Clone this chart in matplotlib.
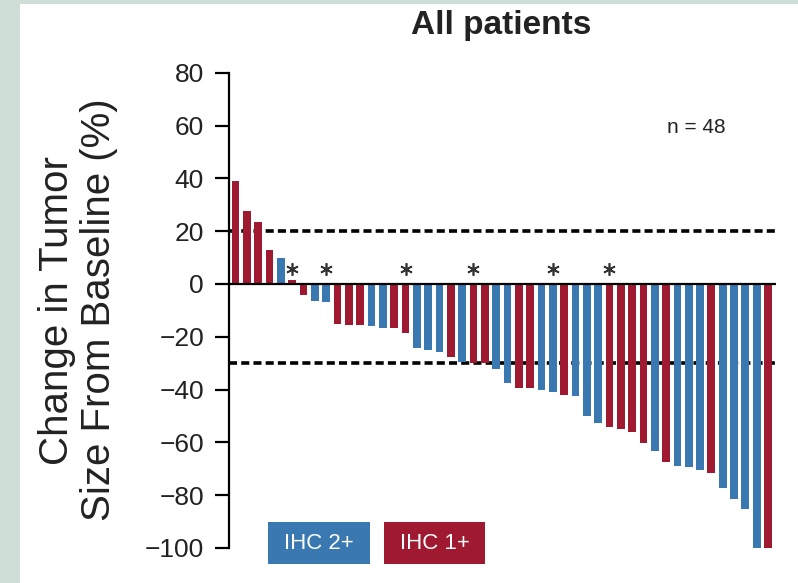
import matplotlib
matplotlib.use("Agg")
import matplotlib.pyplot as plt
from matplotlib.patches import Rectangle

plt.rcParams["font.family"] = ["Liberation Sans", "DejaVu Sans"]
plt.rcParams["lines.scale_dashes"] = False

# percent change from baseline, sorted waterfall order
change = [39, 27.5, 23.5, 13, 10, 1.5, -4, -6.5, -7, -15,
          -15.5, -15.7, -16, -16.7, -16.8, -18.7, -24.4, -25, -25.6, -27.8,
          -29.4, -29.8, -30.1, -32.3, -37.4, -39.3, -39.5, -40.2, -40.9, -42,
          -42.4, -50, -52.5, -54, -55, -56.2, -60.1, -63.3, -67.5, -68.8,
          -69.3, -70.5, -71.5, -77.4, -81.6, -85.1, -100, -100]
# HER2 status per patient: "1+" or "2+"
ihc = ["1+", "1+", "1+", "1+", "2+", "1+", "1+", "2+", "2+", "1+",
       "1+", "1+", "2+", "2+", "1+", "1+", "2+", "2+", "2+", "1+",
       "2+", "1+", "1+", "2+", "2+", "1+", "1+", "2+", "2+", "1+",
       "2+", "2+", "2+", "1+", "1+", "1+", "1+", "2+", "1+", "2+",
       "2+", "2+", "1+", "2+", "2+", "2+", "2+", "1+"]
# patients marked with an asterisk
starred = [6, 9, 16, 22, 29, 34]
ref_lines = [20, -30]
yticks = [80, 60, 40, 20, 0, -20, -40, -60, -80, -100]

BLUE = "#3a78b1"
RED = "#9f1a31"
TXT = "#222222"
colors = {"2+": BLUE, "1+": RED}

fig = plt.figure(figsize=(7.98, 5.83), dpi=100, facecolor="#cfdfd8")
fig.patches.append(Rectangle((0.025, 0), 0.975, 0.993, transform=fig.transFigure,
                             facecolor="white", edgecolor="none", zorder=-5))

ax = fig.add_axes([0.287, 0.0374, 0.6855, 0.8604])
ax.set_facecolor("none")

x = list(range(len(change)))
ax.bar(x, change, width=0.7, color=[colors[c] for c in ihc], zorder=2)

for y in ref_lines:
    ax.axhline(y, color="black", lw=2.6, dashes=(5.8, 3.0), zorder=1)
ax.axhline(0, color="black", lw=1.6, zorder=3)

sx = [i - 1 for i in starred]
ax.plot(sx, [5.5] * len(sx), ls="none", marker=(6, 2, 0), ms=9,
        mec="#333333", mew=1.2, zorder=3)

ax.set_xlim(-0.574, 47.7)
ax.set_ylim(-105, 85)
for s in ["top", "right", "bottom"]:
    ax.spines[s].set_visible(False)
ax.spines["left"].set_bounds(-100, 80)
ax.spines["left"].set_linewidth(1.6)
ax.set_xticks([])
ax.set_yticks(yticks)
ax.tick_params(axis="y", length=10, width=1.6, pad=8, labelsize=19, labelcolor=TXT)

ax.text(0.855, 0.864, "n = 48", transform=ax.transAxes, ha="center", va="center",
        fontsize=15, color=TXT)

fig.text(0.628, 0.957, "All patients", ha="center", va="center", fontsize=24,
         fontweight="bold", color=TXT)
fig.text(0.098, 0.468, "Change in Tumor\nSize From Baseline (%)", rotation=90,
         ha="center", va="center", multialignment="center", fontsize=29,
         linespacing=1.15, color=TXT)

# legend boxes
for x0, w, col, label in [(0.3358, 0.1278, BLUE, "IHC 2+"), (0.4812, 0.1266, RED, "IHC 1+")]:
    fig.patches.append(Rectangle((x0, 0.0326), w, 0.072, transform=fig.transFigure,
                                 facecolor=col, edgecolor="none", zorder=1))
    fig.text(x0 + w / 2, 0.0686, label, ha="center", va="center", fontsize=16,
             color="white")

fig.savefig("out.png", dpi=100, facecolor=fig.get_facecolor())
